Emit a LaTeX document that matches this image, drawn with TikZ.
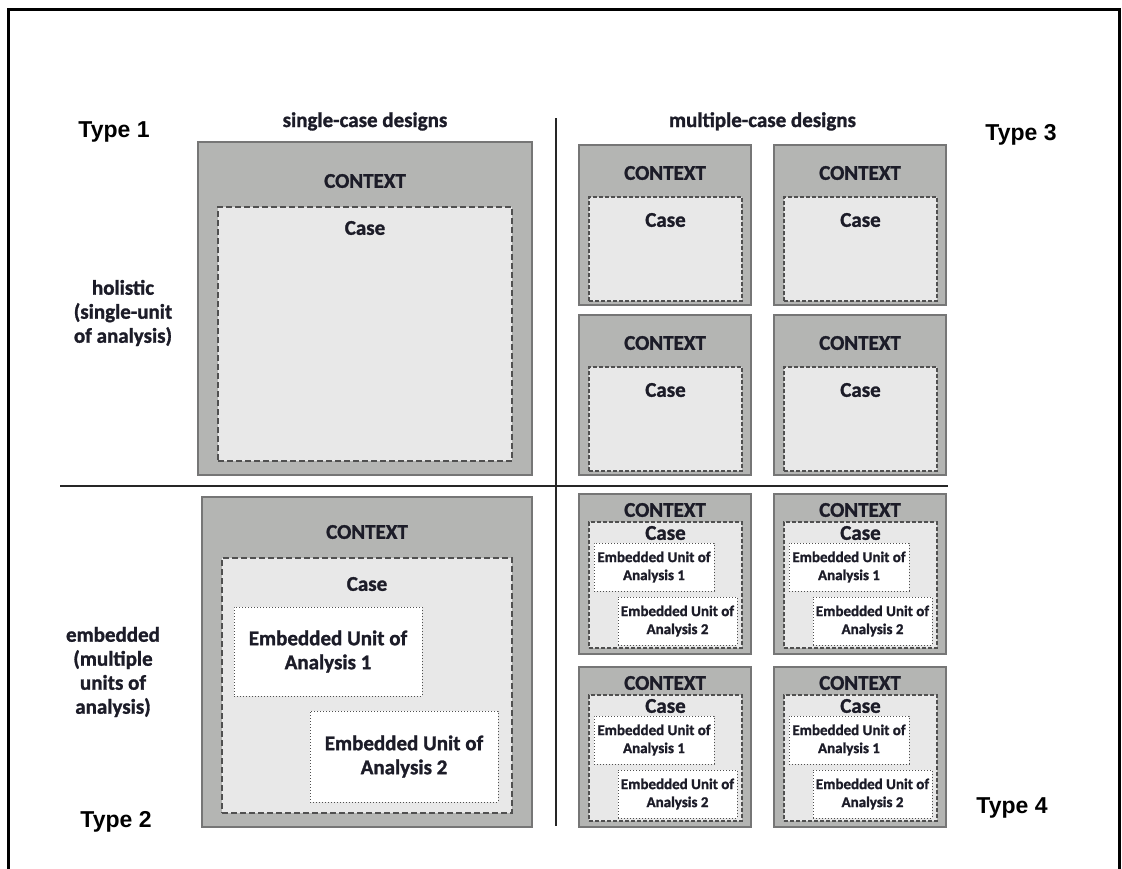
\documentclass[tikz,border=0pt]{standalone}
\usepackage{fontspec}
\setmainfont{Carlito}[BoldFeatures={FakeBold=1.3}]
\newfontfamily\typefont{Liberation Sans}
\usetikzlibrary{calc, positioning}
\definecolor{ctxgray}{RGB}{180,181,179}
\definecolor{ctxline}{RGB}{118,118,118}
\definecolor{casegray}{RGB}{232,232,232}
\definecolor{caseline}{RGB}{80,80,80}
\definecolor{txtdark}{RGB}{28,28,40}
\tikzset{
    ctxBox/.style={rectangle, draw=ctxline, fill=ctxgray, line width=1.8pt, inner sep=0pt, outer sep=0pt, anchor=north west},
    caseBox/.style={rectangle, draw=caseline, fill=casegray, dash pattern=on 6pt off 3pt, line width=1.4pt, inner sep=0pt, outer sep=0pt, anchor=north west},
    caseSmall/.style={caseBox, dash pattern=on 4pt off 2pt, line width=1.2pt},
    unitBox/.style={rectangle, draw=caseline, fill=white, dotted, line width=1pt, inner sep=0pt, outer sep=0pt, anchor=north west},
    lbl/.style={font=\bfseries\fontsize{21}{24}\selectfont, text=txtdark, inner sep=0pt, align=center},
    smallLbl/.style={font=\bfseries\fontsize{15}{18}\selectfont, text=txtdark, inner sep=0pt, align=center},
    typeLbl/.style={font=\typefont\bfseries\fontsize{23}{26}\selectfont, inner sep=0pt, anchor=base},
    quadLine/.style={line width=2pt, black!85},
}
% single holistic case inside a context
\newcommand{\holisticCase}[3]{
    \node[ctxBox, minimum width=172pt, minimum height=160pt] (#1) at (#2, #3) {};
    \node[caseSmall, minimum width=153pt, minimum height=104pt] (#1c) at ($(#1.north west)+(10, 52)$) {};
    \node[lbl] at ([yshift=-28pt]#1.north) {CONTEXT};
    \node[lbl] at ([yshift=-23pt]#1c.north) {Case};
}
% case with two embedded units inside a context
\newcommand{\embeddedCase}[3]{
    \node[ctxBox, minimum width=172pt, minimum height=160pt] (#1) at (#2, #3) {};
    \node[caseSmall, minimum width=153pt, minimum height=126pt] (#1c) at ($(#1.north west)+(10, 28)$) {};
    \node[lbl] at ([yshift=-16pt]#1.north) {CONTEXT};
    \node[lbl] at ([yshift=-11pt]#1c.north) {Case};
    \node[unitBox, minimum width=120pt, minimum height=48pt] (#1u) at ($(#1c.north west)+(5, 21)$) {};
    \node[unitBox, minimum width=119pt, minimum height=48pt] (#1v) at ($(#1c.north west)+(29, 75)$) {};
    \node[smallLbl] at (#1u) {Embedded Unit of\\Analysis 1};
    \node[smallLbl] at (#1v) {Embedded Unit of\\Analysis 2};
}

\begin{document}
\begin{tikzpicture}[x=1pt, y=-1pt]

    \useasboundingbox (0, 0) rectangle (1122, 868);
    \draw[line width=3pt] (8.5, 9.5) rectangle (1119.5, 885);

    % quadrant lines
    \coordinate (vtop) at (556, 118);
    \coordinate (vbot) at (556, 826);
    \coordinate (hleft) at (60, 486);
    \coordinate (hright) at (948, 486);
    \draw[quadLine] (vtop) -- (vbot);
    \draw[quadLine] (hleft) -- (hright);

    % Type 1: single-case holistic
    \node[ctxBox, minimum width=334pt, minimum height=333pt] (t1) at (198, 142) {};
    \node[caseBox, minimum width=294pt, minimum height=254pt] (t1c) at ($(t1.north west)+(20, 65)$) {};
    \node[lbl] at ([yshift=-39pt]t1.north) {CONTEXT};
    \node[lbl] at ([yshift=-21pt]t1c.north) {Case};

    % Type 2: single-case embedded
    \node[ctxBox, minimum width=330pt, minimum height=330pt] (t2) at (202, 497) {};
    \node[caseBox, minimum width=290pt, minimum height=255pt] (t2c) at ($(t2.north west)+(20, 61)$) {};
    \node[lbl] at ([yshift=-35pt]t2.north) {CONTEXT};
    \node[lbl] at ([yshift=-26pt]t2c.north) {Case};
    \node[unitBox, minimum width=188pt, minimum height=89pt] (t2u) at ($(t2c.north west)+(12, 49)$) {};
    \node[unitBox, minimum width=188pt, minimum height=91pt] (t2v) at ($(t2c.north west)+(88, 153)$) {};
    \node[lbl] at (t2u) {Embedded Unit of\\Analysis 1};
    \node[lbl] at (t2v) {Embedded Unit of\\Analysis 2};

    % Type 3: multiple-case holistic
    \holisticCase{ha}{579}{145}
    \holisticCase{hb}{774}{145}
    \holisticCase{hc}{579}{315}
    \holisticCase{hd}{774}{315}

    % Type 4: multiple-case embedded
    \embeddedCase{ea}{579}{494}
    \embeddedCase{eb}{774}{494}
    \embeddedCase{ec}{579}{667}
    \embeddedCase{ed}{774}{667}

    % headings
    \node[lbl, anchor=base] (single) at ($(t1.north)+(0, -15)$) {single-case designs};
    \node[lbl, anchor=base] (multi) at ($(ha.north east)!0.5!(hb.north west)+(0, -18)$) {multiple-case designs};
    \node[lbl] (holistic) at (123, 313) {holistic\\(single-unit\\of analysis)};
    \node[lbl] (embedded) at (113, 672) {embedded\\(multiple\\units of\\analysis)};

    \node[typeLbl] (type1) at (114, 137) {Type 1};
    \node[typeLbl] (type2) at (116, 827) {Type 2};
    \node[typeLbl] (type3) at (1021, 140) {Type 3};
    \node[typeLbl] (type4) at (1012, 813) {Type 4};

\end{tikzpicture}
\end{document}
